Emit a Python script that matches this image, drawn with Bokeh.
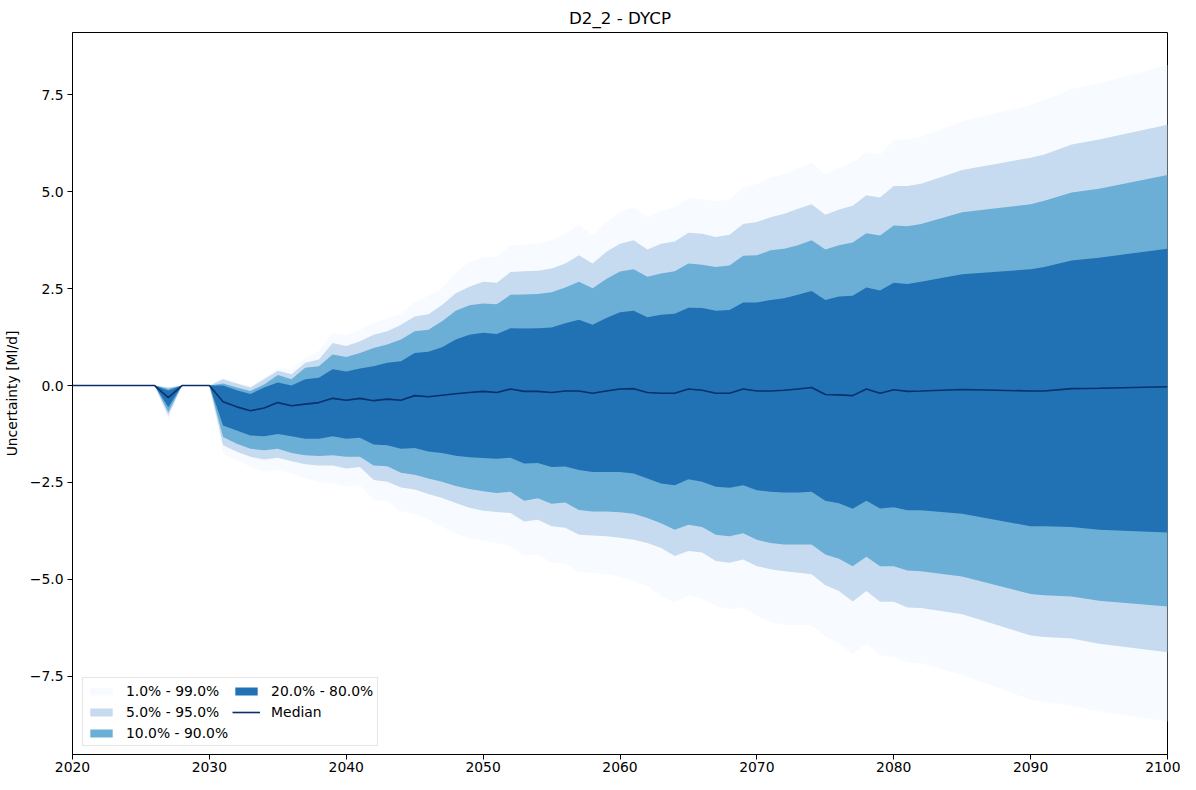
import numpy as np
from bokeh.plotting import figure
from bokeh.models import ColumnDataSource, FixedTicker, Legend, LegendItem, Range1d
from bokeh.embed import file_html
from bokeh.resources import INLINE

# years: annual to 2082, sparser afterwards
years = list(range(2020, 2083)) + [2085, 2090, 2091, 2093, 2095, 2100]

# values, 2020-2030 then 2031 onwards
pre = [0, 0, 0, 0, 0, 0, 0]
p99 = pre + [-0.02, 0, 0, 0] + [
    0.20, 0.08, 0.00, 0.20, 0.46, 0.42, 0.72, 0.89, 1.36, 1.31, 1.44, 1.61, 1.74, 1.85, 2.16, 2.32, 2.52,
    2.92, 3.19, 3.31, 3.32, 3.62, 3.64, 3.66, 3.75, 3.92, 4.15, 3.89, 4.22, 4.47, 4.60, 4.34, 4.51, 4.60,
    4.83, 4.81, 4.75, 4.81, 5.11, 5.20, 5.37, 5.45, 5.60, 5.75, 5.45, 5.62, 5.75, 6.02, 5.96, 6.33, 6.35,
    6.42, 6.82, 7.24, 7.37, 7.65, 7.80, 8.27]
p95 = pre + [-0.05, 0, 0, 0] + [
    0.16, 0.05, -0.05, 0.16, 0.38, 0.29, 0.59, 0.67, 1.10, 1.02, 1.14, 1.31, 1.40, 1.57, 1.78, 1.84, 2.08,
    2.38, 2.55, 2.68, 2.65, 2.93, 2.95, 2.96, 3.02, 3.15, 3.36, 3.15, 3.45, 3.66, 3.75, 3.51, 3.66, 3.72,
    3.94, 3.92, 3.83, 3.89, 4.17, 4.22, 4.34, 4.43, 4.56, 4.68, 4.41, 4.54, 4.64, 4.91, 4.85, 5.15, 5.15,
    5.21, 5.56, 5.88, 5.96, 6.22, 6.35, 6.73]
p90 = pre + [-0.08, 0, 0, 0] + [
    0.05, -0.05, -0.14, 0.03, 0.27, 0.16, 0.46, 0.50, 0.80, 0.74, 0.84, 0.97, 1.06, 1.19, 1.40, 1.44, 1.66,
    1.93, 2.07, 2.12, 2.10, 2.34, 2.35, 2.36, 2.41, 2.53, 2.68, 2.51, 2.75, 2.94, 3.00, 2.81, 2.89, 2.95,
    3.15, 3.12, 3.06, 3.10, 3.35, 3.36, 3.49, 3.53, 3.62, 3.75, 3.51, 3.62, 3.69, 3.93, 3.87, 4.13, 4.11,
    4.17, 4.47, 4.68, 4.77, 4.98, 5.08, 5.43]
p80 = pre + [-0.13, 0, 0, 0] + [
    0.00, -0.12, -0.22, -0.05, 0.08, 0.00, 0.16, 0.20, 0.42, 0.36, 0.44, 0.50, 0.59, 0.63, 0.84, 0.87, 0.99,
    1.19, 1.31, 1.36, 1.33, 1.48, 1.47, 1.48, 1.50, 1.61, 1.70, 1.57, 1.74, 1.89, 1.93, 1.76, 1.83, 1.85,
    2.01, 2.00, 1.93, 1.95, 2.14, 2.14, 2.21, 2.25, 2.34, 2.44, 2.21, 2.30, 2.32, 2.53, 2.45, 2.65, 2.62,
    2.68, 2.87, 3.00, 3.06, 3.23, 3.30, 3.53]
median = pre + [-0.31, 0, 0, 0] + [
    -0.42, -0.55, -0.65, -0.58, -0.44, -0.52, -0.48, -0.44, -0.33, -0.38, -0.33, -0.39, -0.35, -0.38, -0.26,
    -0.29, -0.25, -0.21, -0.18, -0.15, -0.18, -0.09, -0.15, -0.15, -0.18, -0.14, -0.14, -0.20, -0.14, -0.09,
    -0.08, -0.18, -0.20, -0.20, -0.09, -0.12, -0.20, -0.20, -0.09, -0.14, -0.14, -0.12, -0.09, -0.05, -0.23,
    -0.24, -0.26, -0.09, -0.20, -0.11, -0.15, -0.14, -0.10, -0.14, -0.14, -0.08, -0.07, -0.03]
p20 = pre + [-0.56, 0, 0, 0] + [
    -1.03, -1.16, -1.29, -1.31, -1.25, -1.31, -1.37, -1.37, -1.31, -1.37, -1.35, -1.52, -1.54, -1.63, -1.61,
    -1.70, -1.74, -1.81, -1.85, -1.87, -1.89, -1.86, -2.01, -2.00, -2.10, -2.09, -2.18, -2.23, -2.23, -2.23,
    -2.27, -2.40, -2.53, -2.57, -2.42, -2.48, -2.61, -2.64, -2.57, -2.70, -2.74, -2.76, -2.76, -2.74, -2.97,
    -3.04, -3.18, -2.97, -3.17, -3.14, -3.22, -3.22, -3.31, -3.63, -3.63, -3.65, -3.72, -3.79]
p10 = pre + [-0.69, 0, 0, 0] + [
    -1.33, -1.50, -1.63, -1.67, -1.63, -1.74, -1.80, -1.82, -1.80, -1.84, -1.84, -2.06, -2.08, -2.25, -2.30,
    -2.40, -2.48, -2.59, -2.67, -2.73, -2.77, -2.74, -2.97, -2.91, -3.05, -3.02, -3.21, -3.25, -3.25, -3.27,
    -3.31, -3.42, -3.55, -3.72, -3.59, -3.65, -3.85, -3.89, -3.81, -3.98, -4.06, -4.10, -4.10, -4.10, -4.36,
    -4.47, -4.66, -4.42, -4.66, -4.66, -4.77, -4.79, -4.93, -5.38, -5.41, -5.44, -5.55, -5.70]
p05 = pre + [-0.78, 0, 0, 0] + [
    -1.54, -1.71, -1.84, -1.91, -1.86, -1.95, -2.03, -2.06, -2.06, -2.14, -2.10, -2.44, -2.48, -2.63, -2.68,
    -2.80, -2.90, -3.03, -3.15, -3.23, -3.26, -3.29, -3.51, -3.46, -3.63, -3.67, -3.85, -3.87, -3.89, -3.93,
    -3.98, -4.06, -4.19, -4.40, -4.27, -4.31, -4.53, -4.57, -4.49, -4.66, -4.74, -4.79, -4.83, -4.87, -5.15,
    -5.30, -5.57, -5.30, -5.58, -5.58, -5.73, -5.74, -5.90, -6.45, -6.49, -6.53, -6.66, -6.88]
p01 = pre + [-0.90, 0, 0, 0] + [
    -1.76, -1.93, -2.10, -2.23, -2.18, -2.27, -2.40, -2.48, -2.53, -2.61, -2.57, -2.95, -2.99, -3.25, -3.33,
    -3.46, -3.65, -3.82, -3.95, -4.00, -4.06, -4.15, -4.40, -4.36, -4.57, -4.59, -4.81, -4.83, -4.87, -4.94,
    -5.04, -5.17, -5.43, -5.60, -5.41, -5.51, -5.68, -5.77, -5.73, -5.94, -6.11, -6.18, -6.18, -6.19, -6.47,
    -6.64, -6.94, -6.65, -6.96, -7.00, -7.15, -7.17, -7.47, -8.11, -8.16, -8.26, -8.41, -8.67]

band_labels = ["1.0% - 99.0%", "5.0% - 95.0%", "10.0% - 90.0%", "20.0% - 80.0%"]
band_colors = ["#f7fbff", "#c6dbef", "#6baed6", "#2171b5"]
x_ticks = [2020, 2030, 2040, 2050, 2060, 2070, 2080, 2090, 2100]
y_ticks = [-7.5, -5.0, -2.5, 0.0, 2.5, 5.0, 7.5]

source = ColumnDataSource(dict(year=years, p01=p01, p05=p05, p10=p10, p20=p20, median=median,
                               p80=p80, p90=p90, p95=p95, p99=p99))

FONT = "DejaVu Sans"

p = figure(width=1180, height=774, output_backend="svg", toolbar_location=None,
           x_range=Range1d(2020, 2100), y_range=Range1d(-9.52, 9.11),
           title="D2_2 - DYCP", min_border_left=66, min_border_right=13,
           min_border_top=24, min_border_bottom=10)

p.title.align = "center"
p.title.text_font = FONT
p.title.text_font_size = "16.7px"
p.title.text_font_style = "normal"
p.title.text_color = "black"

p.xgrid.grid_line_color = None
p.ygrid.grid_line_color = None
p.outline_line_color = "black"
p.outline_line_alpha = 1.0
p.outline_line_width = 1

p.xaxis.ticker = FixedTicker(ticks=x_ticks)
p.yaxis.ticker = FixedTicker(ticks=y_ticks)
p.yaxis.major_label_overrides = {v: ("%.1f" % v).replace("-", "\u2212") for v in y_ticks}
p.yaxis.axis_label = "Uncertainty [Ml/d]"
for ax in (p.xaxis, p.yaxis):
    ax.major_label_text_font = FONT
    ax.major_label_text_font_size = "13.9px"
    ax.major_label_text_color = "black"
    ax.axis_label_text_font = FONT
    ax.axis_label_text_font_size = "13.9px"
    ax.axis_label_text_font_style = "normal"
    ax.axis_label_text_color = "black"
    ax.major_tick_in = 0
    ax.major_tick_out = 5
    ax.minor_tick_line_color = None
    ax.axis_line_color = "black"
p.xaxis.major_label_standoff = 2
p.xaxis.axis_label_standoff = 0
p.yaxis.major_label_standoff = 4
p.yaxis.axis_label_standoff = 7

keys = [("p01", "p99"), ("p05", "p95"), ("p10", "p90"), ("p20", "p80")]
items = []
for (lo, hi), col, lab in zip(keys, band_colors, band_labels):
    r = p.varea(x="year", y1=lo, y2=hi, source=source, fill_color=col)
    items.append(LegendItem(label=lab, renderers=[r]))

ml = p.line(x="year", y="median", source=source, line_color="#08306b", line_width=1.6)
items.append(LegendItem(label="Median", renderers=[ml]))

legend = Legend(items=items, location=(10, 8), nrows=3,
                label_text_font=FONT, label_text_font_size="13.9px", label_text_color="black",
                glyph_width=28, glyph_height=10, label_height=17, spacing=4,
                label_standoff=11, padding=4, margin=0,
                border_line_color="#cccccc", background_fill_alpha=0.8)
p.add_layout(legend)

open("out.html", "w").write(file_html(p, INLINE))
